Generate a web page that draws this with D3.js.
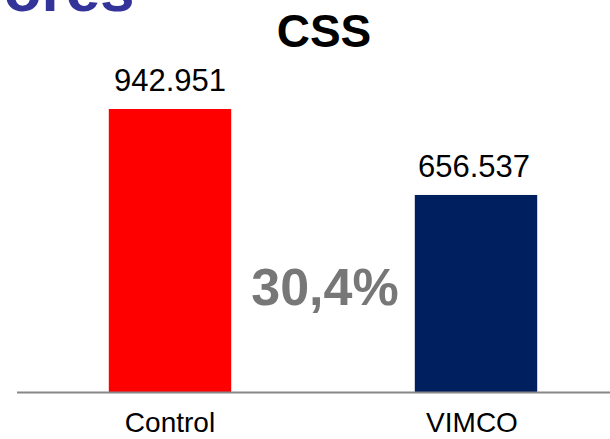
<!DOCTYPE html>
<html>
<head>
<meta charset="utf-8">
<script src="https://cdn.jsdelivr.net/npm/d3@7"></script>
<style>
  body { margin: 0; background: #fff; }
  svg { display: block; font-family: "Liberation Sans", Arial, sans-serif; }
</style>
</head>
<body>
<script>

var categories = ["Control", "VIMCO"];
var values = [942.951, 656.537];
var valueLabels = ["942.951", "656.537"];
var colors = ["#ff0000", "#001f5f"];
var title = "CSS";
var reduction = "30,4%";

var width = 610, height = 439;
var baseY = 392;

var svg = d3.select("body").append("svg")
    .attr("width", width)
    .attr("height", height);

// heading of the slide, cut off by the top edge
svg.append("text")
    .attr("x", -86)
    .attr("y", 11)
    .style("font-size", "62px")
    .style("font-weight", "bold")
    .style("fill", "#333399")
    .text("Valores");

var x = d3.scaleBand()
    .domain(categories)
    .range([17, 629])
    .paddingInner(0.6)
    .paddingOuter(0.3);

var y = d3.scaleLinear()
    .domain([0, 942.951])
    .range([baseY, 109]);

svg.append("text")
    .attr("x", 324)
    .attr("y", 47)
    .attr("text-anchor", "middle")
    .style("font-size", "46px")
    .style("font-weight", "bold")
    .text(title);

svg.selectAll(".bar")
    .data(values)
  .enter().append("rect")
    .attr("class", "bar")
    .attr("x", function(d, i) { return x(categories[i]); })
    .attr("width", x.bandwidth())
    .attr("y", function(d) { return y(d); })
    .attr("height", function(d) { return baseY - y(d); })
    .style("fill", function(d, i) { return colors[i]; });

svg.selectAll(".vlabel")
    .data(values)
  .enter().append("text")
    .attr("class", "vlabel")
    .attr("x", function(d, i) { return x(categories[i]) + x.bandwidth() / 2 - 2 * i; })
    .attr("y", function(d) { return y(d) - 18; })
    .attr("text-anchor", "middle")
    .style("font-size", "31px")
    .text(function(d, i) { return valueLabels[i]; });

// axis line
svg.append("line")
    .attr("x1", 17)
    .attr("x2", width)
    .attr("y1", baseY + 0.5)
    .attr("y2", baseY + 0.5)
    .style("stroke", "#888")
    .style("stroke-width", 2);

svg.selectAll(".cat")
    .data(categories)
  .enter().append("text")
    .attr("class", "cat")
    .attr("x", function(d, i) { return x(d) + x.bandwidth() / 2 - 4 * i; })
    .attr("y", 432)
    .attr("text-anchor", "middle")
    .style("font-size", "28px")
    .text(function(d) { return d; });

svg.append("text")
    .attr("x", 325)
    .attr("y", 305)
    .attr("text-anchor", "middle")
    .style("font-size", "52px")
    .style("font-weight", "bold")
    .style("fill", "#777")
    .text(reduction);

</script>
</body>
</html>
